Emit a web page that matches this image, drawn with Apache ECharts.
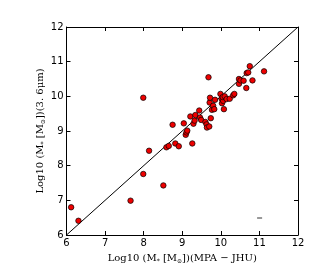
<!DOCTYPE html>
<html><head><meta charset="utf-8">
<script src="https://cdn.jsdelivr.net/npm/echarts@6/dist/echarts.min.js"></script>
<style>html,body{margin:0;padding:0;background:#fff}#c{width:332px;height:277px}</style>
</head><body><div id="c"></div>
<script>
var massMPA = [6.12, 6.31, 7.66, 7.99, 7.99, 8.14, 8.51, 8.59, 8.65, 8.75, 8.82, 8.91, 9.04, 9.09, 9.11, 9.13, 9.21, 9.26, 9.29, 9.32, 9.34, 9.44, 9.46, 9.49, 9.60, 9.63, 9.64, 9.68, 9.70, 9.71, 9.72, 9.74, 9.77, 9.80, 9.83, 9.85, 9.99, 10.02, 10.03, 10.06, 10.08, 10.05, 10.10, 10.15, 10.23, 10.32, 10.35, 10.47, 10.47, 10.51, 10.59, 10.66, 10.67, 10.71, 10.75, 10.82, 11.12];
var mass36 = [6.80, 6.41, 6.99, 7.76, 9.96, 8.43, 7.43, 8.53, 8.57, 9.18, 8.64, 8.56, 9.22, 8.89, 8.96, 9.01, 9.42, 8.64, 9.21, 9.30, 9.46, 9.59, 9.39, 9.32, 9.26, 9.19, 9.10, 10.55, 9.13, 9.82, 9.96, 9.37, 9.61, 9.73, 9.63, 9.90, 10.07, 9.93, 9.80, 9.87, 9.63, 9.98, 10.00, 9.92, 9.93, 10.03, 10.07, 10.36, 10.50, 10.46, 10.45, 10.24, 10.67, 10.69, 10.87, 10.46, 10.72];
var oneToOneX = [6, 12];
var oneToOneY = [6, 12];
var dashX = [10.94, 11.07];
var dashY = [6.49, 6.49];
var tickMin = 6, tickMax = 12, tickStep = 1;

var pts = massMPA.map(function(x, i){ return [x, mass36[i]]; });
var diag = oneToOneX.map(function(x, i){ return [x, oneToOneY[i]]; });
var dash = dashX.map(function(x, i){ return [x, dashY[i]]; });

var rich = {
  n: {fontFamily: 'DejaVu Serif', fontSize: 10, color: '#000'},
  s: {fontFamily: 'DejaVu Serif', fontSize: 6, color: '#000', verticalAlign: 'bottom', padding: [6,0,0,0]}
};
function baseAxis(pos, show) {
  return {
    type: 'value', position: pos, min: tickMin, max: tickMax, interval: tickStep,
    axisLine: {show: true, onZero: false, lineStyle: {color: '#000', width: 1}},
    axisTick: {show: true, inside: true, length: 4, lineStyle: {color: '#000'}},
    axisLabel: {show: show, color: '#000', fontFamily: 'DejaVu Sans', fontSize: 10, margin: 3},
    splitLine: {show: false}
  };
}
var xBottom = baseAxis('bottom', true);
xBottom.name = '{n|Log10 (M}{s|*}{n| [M}{s|⊙}{n|])(MPA − JHU)}';
xBottom.nameLocation = 'middle';
xBottom.nameGap = 17;
xBottom.nameMoveOverlap = false;
xBottom.nameTextStyle = {rich: rich};
var yLeft = baseAxis('left', true);
yLeft.name = '{n|Log10 (M}{s|*}{n| [M}{s|⊙}{n|])(3. 6μm)}';
yLeft.nameLocation = 'middle';
yLeft.nameGap = 20;
yLeft.nameMoveOverlap = false;
yLeft.nameTextStyle = {rich: rich};

var chart = echarts.init(document.getElementById('c'), null, {renderer: 'canvas'});
chart.setOption({
  animation: false,
  backgroundColor: '#fff',
  grid: {left: 66.5, right: 34, top: 27, bottom: 42},
  xAxis: [xBottom, baseAxis('top', false)],
  yAxis: [yLeft, baseAxis('right', false)],
  series: [
    {type: 'line', data: diag, showSymbol: false, symbol: 'none', lineStyle: {color: '#000', width: 1}, z: 2},
    {type: 'line', data: dash, showSymbol: false, symbol: 'none', lineStyle: {color: '#333', width: 1}, z: 2},
    {type: 'scatter', data: pts, symbol: 'circle', symbolSize: 5.5,
     itemStyle: {color: '#ee0000', borderColor: '#000', borderWidth: 0.7, opacity: 1}, z: 3}
  ]
});
</script></body></html>
